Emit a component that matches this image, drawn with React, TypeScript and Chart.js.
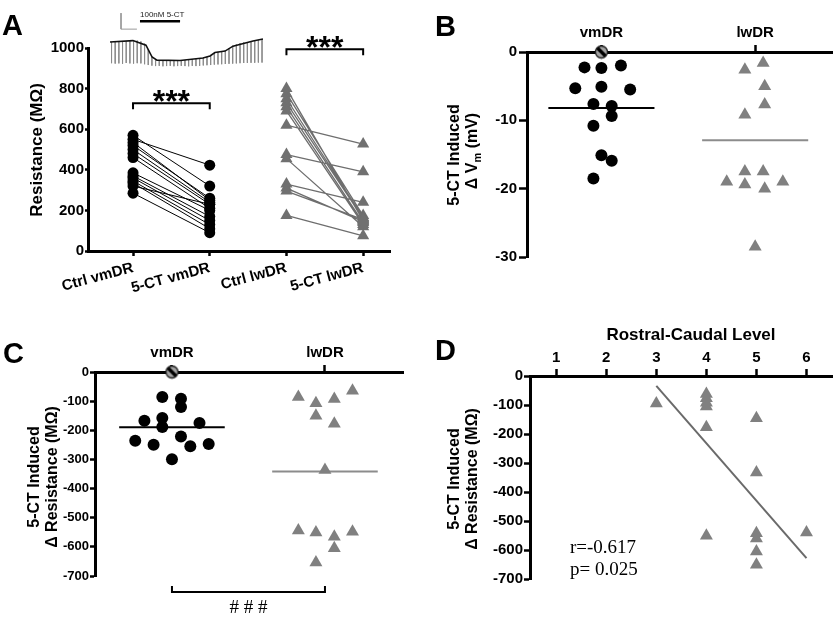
import React, { useEffect, useRef } from "react";
import { Chart, registerables } from "chart.js";
Chart.register(...registerables);

const SANS = '"Liberation Sans", Arial, Helvetica, sans-serif';
const SERIF = '"Liberation Serif", "Times New Roman", serif';
const BLACK = "#000000";
const GRAY_A = "#707070";
const GRAY = "#808080";
const GRAY_MEAN = "#8c8c8c";
const GRAY_LINE = "#6e6e6e";

// ---------- Panel A ----------
const categoriesA = ["Ctrl vmDR", "5-CT vmDR", "Ctrl lwDR", "5-CT lwDR"];
const ctrlVm = [570, 550, 535, 520, 500, 480, 460, 385, 370, 360, 345, 335, 320, 285];
const ctVm = [320, 423, 250, 260, 240, 230, 210, 200, 170, 150, 130, 110, 230, 90];
const ctrlLw = [800, 775, 750, 730, 710, 690, 620, 475, 455, 330, 310, 295, 175];
const ctLw = [150, 175, 165, 160, 140, 130, 527, 390, 120, 240, 145, 155, 75];
const bracketFromA = [0, 2];
const bracketToA = [1, 3];
const bracketValA = [728, 994];
const bracketLabelA = ["***", "***"];

// inset trace (time units, mV)
const traceT = [0, 15, 23.5, 27.5, 30.7, 45.8, 60.8, 65.4, 68.6, 75.2, 80.4, 93.5, 100];
const traceV = [0, 0.7, -1.5, -7.3, -8.8, -9.0, -7.8, -6.8, -5.1, -4.4, -2.0, 0.5, 1.5];
const pulseStep = 2.4;
const pulseTop = [0, 0.1, 0.2, 0.3, 0.4, 0.5, 0.6, 0.7, 0.3, -0.8, -3.5, -7, -8.6, -8.8, -8.9, -9, -9, -9, -9, -8.9, -8.8, -8.6, -8.4, -8.2, -8, -7.6, -7.2, -6.6, -5.2, -4.8, -4.6, -4.3, -3, -1.8, -1.2, -0.6, -0.2, 0, 0.3, 0.6, 1, 1.3];
const pulseBottom = [-10.3, -10.5, -10.4, -10.6, -10.2, -10.4, -10.5, -10.3, -10.4, -10.8, -11.2, -11.5, -11.7, -11.6, -11.8, -11.7, -11.6, -11.8, -11.7, -11.6, -11.7, -11.8, -11.6, -11.7, -11.6, -11.4, -11.3, -11.2, -11, -10.9, -10.8, -10.7, -10.6, -10.5, -10.4, -10.3, -10.2, -10.2, -10.1, -10.1, -10, -10];
const scaleBarT = [7.2, 7.2, 17.6];
const scaleBarV = [14.1, 6.3, 6.3];
const drugBarT = [19.6, 45.8];
const drugBarV = [10.2, 10.2];
const drugLabel = "100nM 5-CT";

// ---------- Panels B & C ----------
const groups = ["vmDR", "lwDR"];
const vmB = [-2.25, -2.35, -1.96, -5.3, -5.1, -5.5, -7.6, -7.9, -9.35, -10.8, -15.1, -15.9, -18.5];
const vmBOff = [-0.11, 0, 0.127, -0.17, 0, 0.187, -0.052, 0.067, 0.067, -0.052, 0, 0.067, -0.052];
const lwB = [-2.6, -1.6, -5.0, -7.7, -9.2, -17.5, -17.5, -19.0, -19.4, -20.0, -19.0, -28.5];
const lwBOff = [-0.067, 0.052, 0.062, 0.062, -0.067, -0.067, 0.052, -0.185, -0.067, 0.062, 0.18, 0];
const meanB = [-8.2, -12.9];
const specialB = 0;

const vmC = [-86, -92, -120, -158, -167, -175, -189, -236, -250, -221, -255, -247, -299];
const vmCOff = [-0.063, 0.059, 0.059, -0.063, -0.18, 0.18, -0.063, -0.24, -0.12, 0.059, 0.12, 0.24, 0];
const lwC = [-86, -107, -93, -64, -150, -178, -336, -544, -551, -565, -548, -605, -654];
const lwCOff = [-0.174, -0.059, 0.061, 0.18, -0.059, 0.061, 0, -0.174, -0.059, 0.061, 0.18, 0.061, -0.059];
const meanC = [-190, -341];
const specialC = 0;

// ---------- Panel D ----------
const levelsD = [1, 2, 3, 4, 5, 6];
const levelD = [3, 4, 4, 4, 4, 4, 4, 5, 5, 5, 5, 5, 5, 6];
const valueD = [-95, -62, -77, -92, -105, -177, -551, -146, -333, -542, -560, -605, -651, -540];
const regLevel = [3, 6];
const regValue = [-34, -628];
const statText = ["r=-0.617", "p= 0.025"];

function makeHatch(): HTMLCanvasElement {
  const c = document.createElement("canvas");
  c.width = 15;
  c.height = 15;
  const g = c.getContext("2d")!;
  g.beginPath();
  g.arc(7.5, 7.5, 6, 0, Math.PI * 2);
  g.fillStyle = "#a3a3a3";
  g.fill();
  g.save();
  g.clip();
  g.strokeStyle = "#000";
  g.lineWidth = 3.4;
  g.beginPath();
  g.moveTo(2, 2);
  g.lineTo(13, 13);
  g.stroke();
  g.restore();
  g.beginPath();
  g.arc(7.5, 7.5, 6, 0, Math.PI * 2);
  g.lineWidth = 1.3;
  g.strokeStyle = "#1a1a1a";
  g.stroke();
  return c;
}

function yAxis(min: number, max: number, step: number, width: number, size: number, tickLen: number, pad: number) {
  return {
    type: "linear",
    position: "left",
    min,
    max,
    ticks: {
      stepSize: step,
      color: BLACK,
      font: { family: SANS, size, weight: "bold" },
      padding: pad,
      callback: (v: any) => String(v),
    },
    grid: { display: true, drawOnChartArea: false, drawTicks: true, tickLength: tickLen, tickWidth: 2.5, tickColor: BLACK },
    border: { display: true, color: BLACK, width: 3 },
    afterFit: (s: any) => {
      s.width = width;
    },
  };
}

function xAxis(pos: string, min: number, max: number, vals: number[], labels: string[], height: number, size: number, tickLen: number, pad: number, rot: number) {
  return {
    type: "linear",
    position: pos,
    min,
    max,
    afterBuildTicks: (s: any) => {
      s.ticks = vals.map((v) => ({ value: v }));
    },
    ticks: {
      autoSkip: false,
      minRotation: rot,
      maxRotation: rot,
      color: BLACK,
      font: { family: SANS, size, weight: "bold" },
      padding: pad,
      callback: (v: any) => {
        const i = vals.indexOf(Number(v));
        return i >= 0 ? labels[i] : "";
      },
    },
    grid: { display: true, drawOnChartArea: false, drawTicks: true, tickLength: tickLen, tickWidth: 2.5, tickColor: BLACK },
    border: { display: true, color: BLACK, width: 3 },
    afterFit: (s: any) => {
      s.height = height;
    },
  };
}

function drawVTitle(ctx: CanvasRenderingContext2D, x: number, y: number, segs: { t: string; sub?: boolean }[], size: number) {
  ctx.save();
  ctx.translate(x, y);
  ctx.rotate(-Math.PI / 2);
  ctx.fillStyle = BLACK;
  ctx.textBaseline = "middle";
  ctx.textAlign = "left";
  const fonts = segs.map((s) => `bold ${s.sub ? Math.round(size * 0.7) : size}px ${SANS}`);
  let total = 0;
  const widths = segs.map((s, i) => {
    ctx.font = fonts[i];
    const w = ctx.measureText(s.t).width;
    total += w;
    return w;
  });
  let cx = -total / 2;
  segs.forEach((s, i) => {
    ctx.font = fonts[i];
    ctx.fillText(s.t, cx, s.sub ? size * 0.3 : 0);
    cx += widths[i];
  });
  ctx.restore();
}

function drawLetter(ctx: CanvasRenderingContext2D, t: string, x: number, y: number) {
  ctx.save();
  ctx.font = `bold 29px ${SANS}`;
  ctx.fillStyle = BLACK;
  ctx.textAlign = "left";
  ctx.textBaseline = "alphabetic";
  ctx.fillText(t, x, y);
  ctx.restore();
}

function baseOptions(padding: any, scales: any) {
  return {
    responsive: false,
    animation: false,
    devicePixelRatio: 1,
    events: [],
    layout: { padding },
    plugins: { legend: { display: false }, tooltip: { enabled: false } },
    scales,
  };
}

const pts = (xs: number[], ys: number[]) => ys.map((y, i) => ({ x: xs[i], y }));
const jit = (c: number, off: number[], ys: number[]) => ys.map((y, i) => ({ x: c + off[i], y }));

export default function App() {
  const refA = useRef<HTMLCanvasElement>(null);
  const refT = useRef<HTMLCanvasElement>(null);
  const refB = useRef<HTMLCanvasElement>(null);
  const refC = useRef<HTMLCanvasElement>(null);
  const refD = useRef<HTMLCanvasElement>(null);

  useEffect(() => {
    const hatch = makeHatch();
    const charts: Chart[] = [];

    // ----- Panel A -----
    const pairLines = (ctrl: number[], ct: number[], x0: number) =>
      ctrl.flatMap((c, i) => [
        { x: x0, y: c },
        { x: x0 + 1, y: ct[i] },
        { x: x0 + 0.5, y: null as any },
      ]);
    const decorA = {
      id: "decorA",
      afterDraw(chart: any) {
        const ctx = chart.ctx as CanvasRenderingContext2D;
        const xs = chart.scales.x;
        const ys = chart.scales.y;
        drawLetter(ctx, "A", 2, 35);
        drawVTitle(ctx, 37, 150, [{ t: "Resistance (MΩ)" }], 17);
        ctx.save();
        ctx.strokeStyle = BLACK;
        ctx.lineWidth = 2;
        bracketValA.forEach((v, i) => {
          const x1 = xs.getPixelForValue(bracketFromA[i]);
          const x2 = xs.getPixelForValue(bracketToA[i]);
          const y = ys.getPixelForValue(v);
          ctx.beginPath();
          ctx.moveTo(x1, y + 6);
          ctx.lineTo(x1, y);
          ctx.lineTo(x2, y);
          ctx.lineTo(x2, y + 6);
          ctx.stroke();
          ctx.font = `bold 32px ${SANS}`;
          ctx.fillStyle = BLACK;
          ctx.textAlign = "center";
          ctx.textBaseline = "alphabetic";
          ctx.fillText(bracketLabelA[i], (x1 + x2) / 2, y + 9);
        });
        ctx.restore();
      },
    };
    charts.push(
      new Chart(refA.current!, {
        type: "scatter",
        data: {
          datasets: [
            { data: pts(ctrlVm.map(() => 0), ctrlVm), pointStyle: "circle", radius: 5.5, backgroundColor: BLACK, borderColor: BLACK, borderWidth: 0, clip: false },
            { data: pts(ctVm.map(() => 1), ctVm), pointStyle: "circle", radius: 5.5, backgroundColor: BLACK, borderColor: BLACK, borderWidth: 0, clip: false },
            { data: pts(ctrlLw.map(() => 2), ctrlLw), pointStyle: "triangle", radius: 7, backgroundColor: GRAY_A, borderColor: GRAY_A, borderWidth: 0, clip: false },
            { data: pts(ctLw.map(() => 3), ctLw), pointStyle: "triangle", radius: 7, backgroundColor: GRAY_A, borderColor: GRAY_A, borderWidth: 0, clip: false },
            { data: pairLines(ctrlVm, ctVm, 0), showLine: true, spanGaps: false, borderColor: BLACK, borderWidth: 1, pointRadius: 0, clip: false },
            { data: pairLines(ctrlLw, ctLw, 2), showLine: true, spanGaps: false, borderColor: GRAY_LINE, borderWidth: 1.3, pointRadius: 0, clip: false },
          ],
        } as any,
        options: baseOptions(
          { left: 0, top: 48, right: 30, bottom: 0 },
          {
            x: xAxis("bottom", -0.587, 3.35, [0, 1, 2, 3], categoriesA, 59, 15, 5, 3, 15),
            y: yAxis(0, 1000, 200, 88, 15, 3, 1),
          }
        ) as any,
        plugins: [decorA],
      })
    );

    // ----- Inset trace -----
    const pulseData = pulseTop.flatMap((tp, i) => [
      { x: 1 + i * pulseStep, y: tp },
      { x: 1 + i * pulseStep, y: pulseBottom[i] },
      { x: 1 + i * pulseStep + 0.1, y: null as any },
    ]);
    const decorT = {
      id: "decorT",
      afterDraw(chart: any) {
        const ctx = chart.ctx as CanvasRenderingContext2D;
        const xs = chart.scales.x;
        const ys = chart.scales.y;
        ctx.save();
        ctx.font = `8px ${SANS}`;
        ctx.fillStyle = "#222";
        ctx.textAlign = "left";
        ctx.textBaseline = "middle";
        ctx.fillText(drugLabel, xs.getPixelForValue(drugBarT[0]), ys.getPixelForValue(13.3));
        ctx.restore();
      },
    };
    charts.push(
      new Chart(refT.current!, {
        type: "scatter",
        data: {
          datasets: [
            { data: pts(traceT, traceV), showLine: true, borderColor: "#111", borderWidth: 1.6, pointRadius: 0, clip: false },
            { data: pulseData, showLine: true, spanGaps: false, borderColor: "#8a8a8a", borderWidth: 0.9, pointRadius: 0, clip: false },
            { data: pts(scaleBarT, scaleBarV), showLine: true, borderColor: "#9a9a9a", borderWidth: 1, pointRadius: 0, clip: false },
            { data: pts(drugBarT, drugBarV), showLine: true, borderColor: BLACK, borderWidth: 2.5, pointRadius: 0, clip: false },
          ],
        } as any,
        options: {
          responsive: false,
          animation: false,
          devicePixelRatio: 1,
          events: [],
          layout: { padding: 0 },
          plugins: { legend: { display: false }, tooltip: { enabled: false } },
          scales: {
            x: { type: "linear", display: false, min: -3.27, max: 104.6 },
            y: { type: "linear", display: false, min: -14.6, max: 16.6 },
          },
        } as any,
        plugins: [decorT],
      })
    );

    // ----- Panel B -----
    const meanSeg = (c: number, m: number) => [
      { x: c - 0.345, y: m },
      { x: c + 0.345, y: m },
    ];
    const decorB = {
      id: "decorB",
      afterDraw(chart: any) {
        const ctx = chart.ctx as CanvasRenderingContext2D;
        drawLetter(ctx, "B", 15, 36);
        drawVTitle(ctx, 35, 155, [{ t: "5-CT Induced" }], 16);
        drawVTitle(ctx, 53, 151, [{ t: "Δ V" }, { t: "m", sub: true }, { t: " (mV)" }], 16);
      },
    };
    charts.push(
      new Chart(refB.current!, {
        type: "scatter",
        data: {
          datasets: [
            { data: [{ x: 1, y: specialB }], pointStyle: hatch, radius: 6, clip: false },
            { data: jit(1, vmBOff, vmB), pointStyle: "circle", radius: 6, backgroundColor: BLACK, borderWidth: 0, clip: false },
            { data: jit(2, lwBOff, lwB), pointStyle: "triangle", radius: 7.5, backgroundColor: GRAY, borderWidth: 0, clip: false },
            { data: meanSeg(1, meanB[0]), showLine: true, borderColor: BLACK, borderWidth: 2, pointRadius: 0, clip: false },
            { data: meanSeg(2, meanB[1]), showLine: true, borderColor: GRAY_MEAN, borderWidth: 2, pointRadius: 0, clip: false },
          ],
        } as any,
        options: baseOptions(
          { left: 0, top: 0, right: 5, bottom: 53 },
          {
            x: xAxis("top", 0.516, 2.503, [1, 2], groups, 52, 15, 7, 3, 0),
            y: yAxis(-30, 0, 10, 107, 15, 8, 2),
          }
        ) as any,
        plugins: [decorB],
      })
    );

    // ----- Panel C -----
    const decorC = {
      id: "decorC",
      afterDraw(chart: any) {
        const ctx = chart.ctx as CanvasRenderingContext2D;
        const xs = chart.scales.x;
        drawLetter(ctx, "C", 3, 53);
        drawVTitle(ctx, 35, 167, [{ t: "5-CT Induced" }], 16);
        drawVTitle(ctx, 53, 167, [{ t: "Δ Resistance (MΩ)" }], 16);
        const x1 = xs.getPixelForValue(1);
        const x2 = xs.getPixelForValue(2);
        const y = chart.chartArea.bottom + 16;
        ctx.save();
        ctx.strokeStyle = BLACK;
        ctx.lineWidth = 2;
        ctx.beginPath();
        ctx.moveTo(x1, y - 6);
        ctx.lineTo(x1, y);
        ctx.lineTo(x2, y);
        ctx.lineTo(x2, y - 6);
        ctx.stroke();
        ctx.font = `19px ${SERIF}`;
        ctx.fillStyle = BLACK;
        ctx.textAlign = "center";
        ctx.textBaseline = "middle";
        ctx.fillText("# # #", (x1 + x2) / 2, y + 16);
        ctx.restore();
      },
    };
    charts.push(
      new Chart(refC.current!, {
        type: "scatter",
        data: {
          datasets: [
            { data: [{ x: 1, y: specialC }], pointStyle: hatch, radius: 6, clip: false },
            { data: jit(1, vmCOff, vmC), pointStyle: "circle", radius: 6, backgroundColor: BLACK, borderWidth: 0, clip: false },
            { data: jit(2, lwCOff, lwC), pointStyle: "triangle", radius: 7.5, backgroundColor: GRAY, borderWidth: 0, clip: false },
            { data: meanSeg(1, meanC[0]), showLine: true, borderColor: BLACK, borderWidth: 2, pointRadius: 0, clip: false },
            { data: meanSeg(2, meanC[1]), showLine: true, borderColor: GRAY_MEAN, borderWidth: 2, pointRadius: 0, clip: false },
          ],
        } as any,
        options: baseOptions(
          { left: 0, top: 0, right: 17, bottom: 49 },
          {
            x: xAxis("top", 0.497, 2.51, [1, 2], groups, 62, 15, 7, 3, 0),
            y: yAxis(-700, 0, 100, 95, 13, 5, 1),
          }
        ) as any,
        plugins: [decorC],
      })
    );

    // ----- Panel D -----
    const decorD = {
      id: "decorD",
      afterDraw(chart: any) {
        const ctx = chart.ctx as CanvasRenderingContext2D;
        drawLetter(ctx, "D", 15, 50);
        drawVTitle(ctx, 35, 169, [{ t: "5-CT Induced" }], 16);
        drawVTitle(ctx, 53, 169, [{ t: "Δ Resistance (MΩ)" }], 16);
        ctx.save();
        ctx.fillStyle = BLACK;
        ctx.font = `bold 17px ${SANS}`;
        ctx.textAlign = "center";
        ctx.textBaseline = "middle";
        ctx.fillText("Rostral-Caudal Level", 271, 25);
        ctx.font = `19px ${SERIF}`;
        ctx.textAlign = "left";
        ctx.textBaseline = "alphabetic";
        ctx.fillText(statText[0], 150, 243);
        ctx.fillText(statText[1], 150, 265);
        ctx.restore();
      },
    };
    charts.push(
      new Chart(refD.current!, {
        type: "scatter",
        data: {
          datasets: [
            { data: pts(levelD, valueD), pointStyle: "triangle", radius: 7.5, backgroundColor: GRAY, borderWidth: 0, clip: false },
            { data: pts(regLevel, regValue), showLine: true, borderColor: "#6a6a6a", borderWidth: 2, pointRadius: 0, clip: false },
          ],
        } as any,
        options: baseOptions(
          { left: 0, top: 0, right: 2, bottom: 46 },
          {
            x: xAxis("top", 0.476, 6.52, levelsD, levelsD.map(String), 66, 15, 7, 2, 0),
            y: yAxis(-700, 0, 100, 110, 15, 6, 1),
          }
        ) as any,
        plugins: [decorD],
      })
    );

    return () => charts.forEach((c) => c.destroy());
  }, []);

  const abs = (l: number, t: number, w: number, h: number): React.CSSProperties => ({
    position: "absolute",
    left: l,
    top: t,
    width: w,
    height: h,
  });

  return (
    <div style={{ position: "fixed", left: 0, top: 0, width: 840, height: 625, background: "#fff", overflow: "hidden" }}>
      <canvas ref={refA} width={420} height={310} style={abs(0, 0, 420, 310)} />
      <canvas ref={refB} width={420} height={310} style={abs(420, 0, 420, 310)} />
      <canvas ref={refC} width={420} height={315} style={abs(0, 310, 420, 315)} />
      <canvas ref={refD} width={420} height={315} style={abs(420, 310, 420, 315)} />
      <canvas ref={refT} width={165} height={64} style={abs(105, 8, 165, 64)} />
    </div>
  );
}
